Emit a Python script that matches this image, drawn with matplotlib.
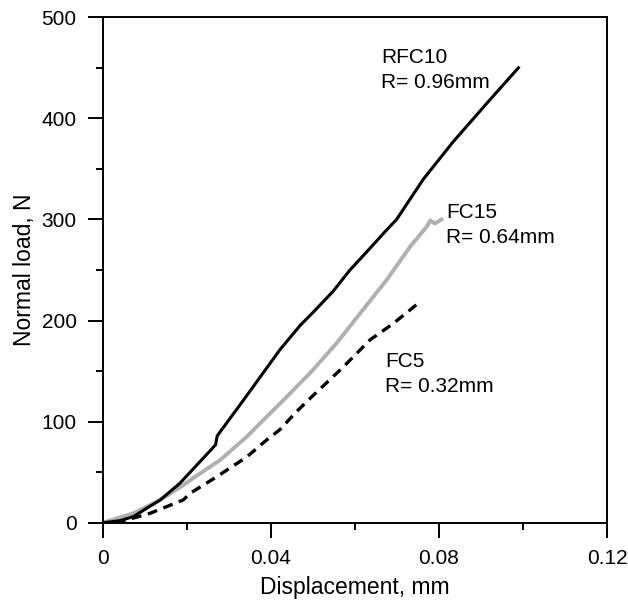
import matplotlib
matplotlib.use('Agg')
import matplotlib.pyplot as plt
from matplotlib.ticker import MultipleLocator

# Data
rfc10_x = [0, 0.004, 0.0072, 0.0136, 0.0183, 0.0230, 0.0268, 0.0272, 0.0334, 0.0374,
           0.0421, 0.0469, 0.0500, 0.0548, 0.0588, 0.0628, 0.0675, 0.0699, 0.0763,
           0.0834, 0.0914, 0.0989]
rfc10_y = [0, 2, 6, 22.5, 39, 60, 77, 86, 121, 144,
           171, 195, 208, 229, 250, 268, 289.5, 300, 340,
           377, 415, 450]

fc15_x = [0, 0.0072, 0.0136, 0.0191, 0.0207, 0.0279, 0.0342, 0.0390, 0.0429, 0.0469,
          0.0493, 0.0556, 0.0612, 0.0675, 0.0731, 0.0771, 0.0779, 0.0790, 0.0806]
fc15_y = [0, 9.3, 22.5, 37, 42, 62, 85, 105, 121, 138,
          148, 177.5, 207, 240, 273, 293, 299, 296, 300]

fc5_x = [0.003, 0.0056, 0.0112, 0.0191, 0.0207, 0.0271, 0.0342, 0.0390, 0.0421, 0.0461,
         0.0493, 0.0572, 0.0636, 0.0691, 0.0755]
fc5_y = [0, 2.7, 9.3, 22.5, 29, 45.5, 65, 82, 92, 110,
         123, 154, 181, 197, 218.6]

# Curve labels
labels = [("RFC10\nR= 0.96mm", 0.0663, 448),
          ("FC15\nR= 0.64mm", 0.0817, 295),
          ("FC5\nR= 0.32mm", 0.0671, 147)]

plt.rcParams['font.family'] = ['Liberation Sans', 'DejaVu Sans']

fig = plt.figure(figsize=(6.28, 6.02), dpi=100)
ax = fig.add_axes([0.164, 0.1317, 0.8026, 0.8396])

ax.plot(fc15_x, fc15_y, color='#b0b0b0', lw=2.8, solid_joinstyle='round')
ax.plot(fc5_x, fc5_y, color='black', lw=2.4, dashes=(3, 2))
ax.plot(rfc10_x, rfc10_y, color='black', lw=2.2, solid_joinstyle='round')

for txt, x, y in labels:
    ax.text(x, y, txt, fontsize=15, ha='left', va='center', linespacing=1.4)

ax.set_xlim(0, 0.12)
ax.set_ylim(0, 500)
ax.xaxis.set_minor_locator(MultipleLocator(0.02))
ax.yaxis.set_major_locator(MultipleLocator(100))
ax.yaxis.set_minor_locator(MultipleLocator(50))
ax.set_xticks([0, 0.04, 0.08, 0.12])
ax.set_xticklabels(['0', '0.04', '0.08', '0.12'])

ax.tick_params(which='major', direction='out', length=11, width=1.4, labelsize=15, pad=8)
ax.tick_params(which='minor', direction='out', length=5, width=1.4)
for s in ax.spines.values():
    s.set_linewidth(1.4)

ax.set_xlabel('Displacement, mm', fontsize=16.5, labelpad=6)
ax.set_ylabel('Normal load, N', fontsize=16.5, labelpad=4)

fig.savefig('out.png', dpi=100)
